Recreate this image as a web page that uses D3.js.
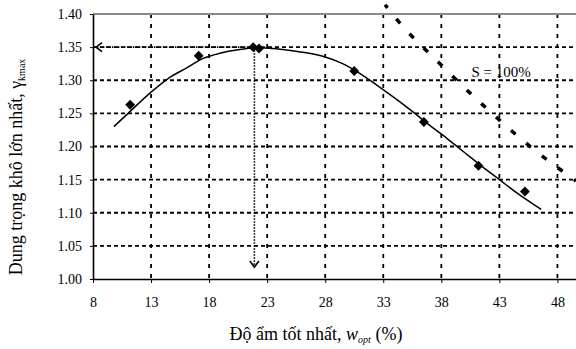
<!DOCTYPE html>
<html>
<head>
<meta charset="utf-8">
<script src="https://cdn.jsdelivr.net/npm/d3@7"></script>
<style>
  body { margin: 0; background: #fff; }
</style>
</head>
<body>
<script>
//Data
const xTicks = [8, 13, 18, 23, 28, 33, 38, 43, 48];
const yTicks = [1.00, 1.05, 1.10, 1.15, 1.20, 1.25, 1.30, 1.35, 1.40];
//measured points
const pointW = [11.2, 17.1, 21.8, 22.3, 30.5, 36.5, 41.2, 45.2];
const pointG = [1.263, 1.337, 1.350, 1.348, 1.314, 1.237, 1.171, 1.132];
//fitted curve
const fitW = [9.8, 11.5, 13, 14.5, 16, 17.5, 19, 20.5, 22, 23.5, 25, 26.5, 28, 29.5, 31, 32.5, 34, 35.5, 37, 38.5, 40, 41.5, 43, 44.5, 46.6];
const fitG = [1.230, 1.258, 1.282, 1.303, 1.318, 1.333, 1.341, 1.346, 1.349, 1.348, 1.345, 1.341, 1.335, 1.325, 1.310, 1.292, 1.273, 1.253, 1.232, 1.212, 1.191, 1.170, 1.150, 1.130, 1.105];
//S = 100% line
const satW = [33.15, 34.2, 37.9, 41.5, 45.3, 49.6];
const satG = [1.414, 1.391, 1.3245, 1.264, 1.205, 1.148];
//optimum
const optW = 21.9, optG = 1.35;

const serif = "'Liberation Serif'";
const w = 576, h = 349;
const margin = {top: 14, right: 0, bottom: 70, left: 93};

const svg = d3.select("body").append("svg").attr("width", w).attr("height", h);

const xScale = d3.scaleLinear().domain([8, 49.6]).range([margin.left, w - margin.right]);
const yScale = d3.scaleLinear().domain([1.0, 1.4]).range([h - margin.bottom, margin.top]);

//Gridlines
svg.append("g").selectAll("line")
  .data(yTicks.filter(d => d > 1.0 && d < 1.4))
  .enter().append("line")
  .attr("x1", xScale(8)).attr("x2", w)
  .attr("y1", d => yScale(d)).attr("y2", d => yScale(d))
  .attr("stroke", "#000").attr("stroke-width", 1.8).attr("stroke-dasharray", "4,3");
svg.append("g").selectAll("line")
  .data(xTicks.filter(d => d > 8))
  .enter().append("line")
  .attr("x1", d => xScale(d)).attr("x2", d => xScale(d))
  .attr("y1", yScale(1.4)).attr("y2", yScale(1.0))
  .attr("stroke", "#000").attr("stroke-width", 1.8).attr("stroke-dasharray", "4,6");

//top border
svg.append("line")
  .attr("x1", xScale(8)).attr("x2", w)
  .attr("y1", yScale(1.4)).attr("y2", yScale(1.4))
  .attr("stroke", "#8a8a8a").attr("stroke-width", 2);

//Axes
function styleAxis(g) {
  g.attr("font-family", null);
  g.select(".domain").attr("stroke", "#000").attr("stroke-width", 1.6);
  g.selectAll(".tick line").attr("stroke", "#000");
  g.selectAll("text").style("font-family", serif).attr("font-size", 14).attr("fill", "#000");
}
const xAxis = d3.axisBottom(xScale).tickValues(xTicks).tickSize(4).tickPadding(14).tickSizeOuter(0).tickFormat(d3.format("d"));
const yAxis = d3.axisLeft(yScale).tickValues(yTicks).tickSize(3).tickPadding(8).tickSizeOuter(0).tickFormat(d3.format(".2f"));
svg.append("g")
  .attr("transform", "translate(0," + yScale(1.0) + ")")
  .call(xAxis)
  .call(styleAxis);
svg.append("g")
  .attr("transform", "translate(" + xScale(8) + ",0)")
  .call(yAxis)
  .call(styleAxis);

//arrow marker
const defs = svg.append("defs");
defs.append("marker").attr("id", "arr")
  .attr("viewBox", "-8 -6 10 12").attr("refX", 0).attr("refY", 0)
  .attr("markerWidth", 10).attr("markerHeight", 12).attr("markerUnits", "userSpaceOnUse")
  .attr("orient", "auto")
  .append("path").attr("d", "M-6,-4.5 L0,0 L-6,4.5").attr("fill", "none").attr("stroke", "#000").attr("stroke-width", 1.6);

//dotted arrows from optimum
svg.append("line")
  .attr("x1", xScale(optW)).attr("y1", yScale(optG))
  .attr("x2", xScale(8) + 3).attr("y2", yScale(optG))
  .attr("stroke", "#000").attr("stroke-width", 1.6).attr("stroke-dasharray", "1.5,1.5")
  .attr("marker-end", "url(#arr)");
svg.append("line")
  .attr("x1", xScale(optW)).attr("y1", yScale(optG))
  .attr("x2", xScale(optW)).attr("y2", yScale(1.018))
  .attr("stroke", "#000").attr("stroke-width", 1.6).attr("stroke-dasharray", "1.5,1.5")
  .attr("marker-end", "url(#arr)");

//S = 100% line
const satData = satW.map((d, i) => [d, satG[i]]);
svg.append("path")
  .attr("d", d3.line().x(d => xScale(d[0])).y(d => yScale(d[1])).curve(d3.curveMonotoneX)(satData))
  .attr("fill", "none").attr("stroke", "#000").attr("stroke-width", 3.5)
  .attr("stroke-dasharray", "6,14").attr("stroke-dashoffset", 2);
svg.append("text").text("S = 100%")
  .attr("x", xScale(40.6)).attr("y", yScale(1.305))
  .style("font-family", serif).attr("font-size", 15).attr("fill", "#000");

//fitted curve
const fitData = fitW.map((d, i) => [d, fitG[i]]);
svg.append("path")
  .attr("d", d3.line().x(d => xScale(d[0])).y(d => yScale(d[1])).curve(d3.curveCatmullRom)(fitData))
  .attr("fill", "none").attr("stroke", "#000").attr("stroke-width", 1.5);

//data points (diamonds)
const diamond = d3.symbol().type(d3.symbolDiamond2).size(62);
svg.append("g").selectAll("path")
  .data(pointW.map((d, i) => [d, pointG[i]]))
  .enter().append("path")
  .attr("d", diamond)
  .attr("transform", d => "translate(" + xScale(d[0]) + "," + yScale(d[1]) + ")")
  .attr("fill", "#000");

//Axis titles
const xt = svg.append("text").attr("x", 316).attr("y", 340).attr("text-anchor", "middle")
  .style("font-family", serif).attr("font-size", 18).attr("fill", "#000");
xt.append("tspan").text("Độ ẩm tốt nhất, ");
xt.append("tspan").text("w").style("font-style", "italic");
xt.append("tspan").text("opt").style("font-style", "italic").attr("font-size", 10).attr("dy", 3);
xt.append("tspan").text(" (%)").attr("dy", -3);

const yt = svg.append("text").attr("transform", "translate(22,167) rotate(-90)").attr("text-anchor", "middle")
  .style("font-family", serif).attr("font-size", 18).attr("fill", "#000");
yt.append("tspan").text("Dung trọng khô lớn nhất, γ");
yt.append("tspan").text("kmax").attr("font-size", 10).attr("dy", 3);
</script>
</body>
</html>
